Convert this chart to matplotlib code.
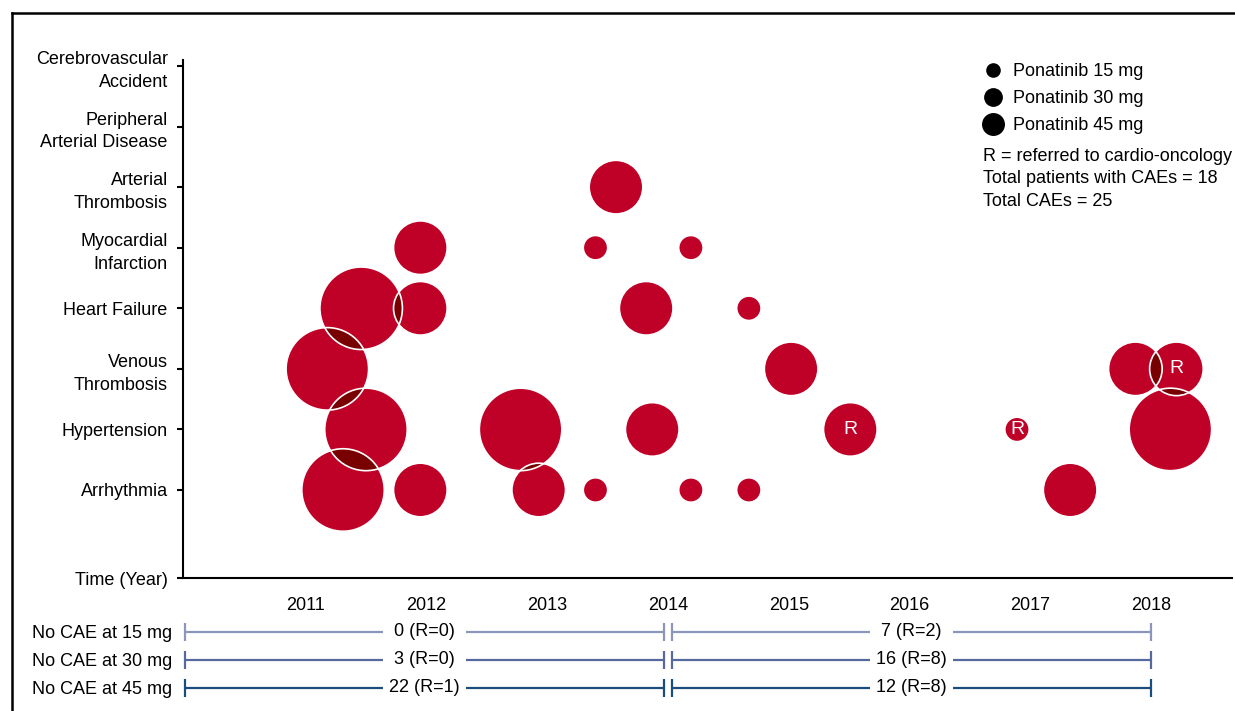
import matplotlib
matplotlib.use("Agg")
import matplotlib.pyplot as plt
from matplotlib.lines import Line2D
from matplotlib.patches import Circle
from matplotlib.transforms import ScaledTranslation

plt.rcParams["font.family"] = ["Liberation Sans", "DejaVu Sans"]
plt.rcParams["font.size"] = 13

# Event categories, bottom (1) to top (8)
categories = ["Arrhythmia", "Hypertension", "Venous\nThrombosis", "Heart Failure",
              "Myocardial\nInfarction", "Arterial\nThrombosis",
              "Peripheral\nArterial Disease", "Cerebrovascular\nAccident"]
year_ticks = [2011, 2012, 2013, 2014, 2015, 2016, 2017, 2018]

# One entry per cardiovascular adverse event (category index from 1)
event_year = [2013.57,
              2011.95, 2013.40, 2014.19,
              2011.46, 2011.95, 2013.82, 2014.67,
              2011.18, 2015.02, 2017.87, 2018.21,
              2011.50, 2012.78, 2013.87, 2015.51, 2016.89, 2018.16,
              2011.31, 2011.95, 2012.93, 2013.40, 2014.19, 2014.67, 2017.33]
event_cat = [6,
             5, 5, 5,
             4, 4, 4, 4,
             3, 3, 3, 3,
             2, 2, 2, 2, 2, 2,
             1, 1, 1, 1, 1, 1, 1]
event_dose = [30,
              30, 15, 15,
              45, 30, 30, 15,
              45, 30, 30, 30,
              45, 45, 30, 30, 15, 45,
              45, 30, 30, 15, 15, 15, 30]
event_referred = [False,
                  False, False, False,
                  False, False, False, False,
                  False, False, False, True,
                  False, False, False, True, True, False,
                  False, False, False, False, False, False, False]

# Patients without a CAE, per dose and period
dose_labels = ["No CAE at 15 mg", "No CAE at 30 mg", "No CAE at 45 mg"]
period_start = [2010.0, 2014.03]
period_end = [2013.97, 2018.0]
no_cae_early = ["0 (R=0)", "3 (R=0)", "22 (R=1)"]
no_cae_late = ["7 (R=2)", "16 (R=8)", "12 (R=8)"]
row_colors = ["#8c96bd", "#56699f", "#1c4b7d"]

radius_pt = {15: 8.8, 30: 19.3, 45: 29.7}
red = "#bf0027"
dark = "#780000"

fig = plt.figure(figsize=(12.35, 7.11), dpi=100)
ax = fig.add_axes([0.14818, 0.18706, 0.84939, 0.72855])

ax.set_xlim(2009.985, 2018.67)
ax.set_ylim(-0.453, 8.099)


def bubble(x, y, dose, **kw):
    tr = fig.dpi_scale_trans + ScaledTranslation(x, y, ax.transData)
    return Circle((0, 0), radius_pt[dose] / 72, transform=tr, **kw)


circles = []
for x, c, d in zip(event_year, event_cat, event_dose):
    p = bubble(x, c, d, facecolor=red, edgecolor="none")
    ax.add_patch(p)
    circles.append(p)

# darker lens where bubbles overlap
n = len(event_year)
for i in range(n):
    for j in range(i + 1, n):
        if abs(event_year[i] - event_year[j]) < 1 and abs(event_cat[i] - event_cat[j]) <= 1:
            lens = bubble(event_year[j], event_cat[j], event_dose[j],
                          facecolor=dark, edgecolor="none")
            lens.set_clip_path(circles[i])
            ax.add_patch(lens)

for x, c, d in zip(event_year, event_cat, event_dose):
    ax.add_patch(bubble(x, c, d, facecolor="none", edgecolor="white", linewidth=1.2))

for x, c, r in zip(event_year, event_cat, event_referred):
    if r:
        ax.text(x, c, "R", color="white", ha="center", va="center", fontsize=14)

ax.set_yticks([-0.453] + list(range(1, len(categories) + 1)))
ax.set_yticklabels(["Time (Year)"] + categories, linespacing=1.45)
ax.set_xticks(year_ticks)
ax.set_xticklabels([str(y) for y in year_ticks])
ax.tick_params(axis="y", length=4.5, width=1.5, pad=6.5)
ax.tick_params(axis="x", length=0, pad=14)
for s in ["top", "right"]:
    ax.spines[s].set_visible(False)
for s in ["left", "bottom"]:
    ax.spines[s].set_linewidth(1.5)

# legend
handles = [Line2D([], [], marker="o", ls="", color="black", markersize=m)
           for m in [9.5, 12.5, 15.5]]
ax.legend(handles, ["Ponatinib 15 mg", "Ponatinib 30 mg", "Ponatinib 45 mg"],
          loc="upper left", bbox_to_anchor=(0.7865, 0.924),
          bbox_transform=fig.transFigure, frameon=False, borderpad=0,
          handlelength=1.4, handletextpad=0.4, labelspacing=0.55, fontsize=13)
fig.text(983 / 1235, 1 - 148 / 711,
         "R = referred to cardio-oncology\nTotal patients with CAEs = 18\nTotal CAEs = 25",
         ha="left", va="top", fontsize=13, linespacing=1.42)

# bottom rows: patients without CAEs
ax2 = fig.add_axes([0.14818, 1 - 702 / 711, 0.84939, 84 / 711])
ax2.set_xlim(ax.get_xlim())
ax2.set_ylim(2.5, -0.5)
gap = 0.345
for row, col in enumerate(row_colors):
    for k, lab in enumerate([no_cae_early[row], no_cae_late[row]]):
        x0, x1 = period_start[k], period_end[k]
        mid = (x0 + x1) / 2
        ax2.hlines(row, x0, mid - gap, color=col, linewidth=1.6)
        ax2.hlines(row, mid + gap, x1, color=col, linewidth=1.6)
        ax2.vlines([x0, x1], row - 0.32, row + 0.32, color=col, linewidth=1.6)
        ax2.text(mid, row, lab, ha="center", va="center", fontsize=13)
ax2.set_yticks(range(len(dose_labels)))
ax2.set_yticklabels(dose_labels)
ax2.set_xticks([])
ax2.tick_params(axis="y", length=0, pad=8)
for s in ax2.spines.values():
    s.set_visible(False)
ax2.patch.set_visible(False)

# outer frame
fig.add_artist(Line2D([12 / 1235, 12 / 1235], [0, 1 - 13 / 711], color="black",
                      linewidth=1.8, transform=fig.transFigure))
fig.add_artist(Line2D([12 / 1235, 1], [1 - 13 / 711, 1 - 13 / 711], color="black",
                      linewidth=1.8, transform=fig.transFigure))

fig.savefig("out.png", dpi=100)
